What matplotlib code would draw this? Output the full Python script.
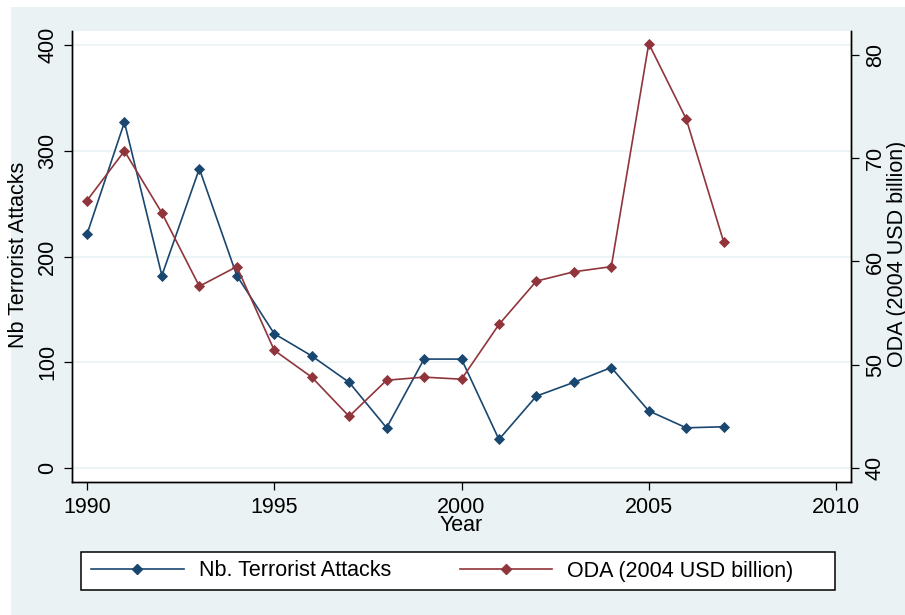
import matplotlib
matplotlib.use("Agg")
import matplotlib.pyplot as plt
from matplotlib.patches import Rectangle
from matplotlib.lines import Line2D

years = list(range(1990, 2008))
attacks = [221, 327, 182, 283, 182, 127, 106, 81, 38, 103, 103, 27, 68, 81, 95, 54, 38, 39]
oda = [65.9, 70.7, 64.7, 57.6, 59.5, 51.4, 48.8, 45.0, 48.5, 48.8, 48.6, 53.9, 58.1, 59.0, 59.5, 81.1, 73.8, 61.9]
left_ticks = [0, 100, 200, 300, 400]
right_ticks = [40, 50, 60, 70, 80]
x_ticks = [1990, 1995, 2000, 2005, 2010]
label_attacks = "Nb. Terrorist Attacks"
label_oda = "ODA (2004 USD billion)"

BLUE = "#1A476F"
RED = "#90353B"
BG = "#EAF2F3"
FS = 15.5
plt.rcParams["font.family"] = ["Liberation Sans", "DejaVu Sans"]

W, H = 905, 615
fig = plt.figure(figsize=(W / 100, H / 100), dpi=100)
fig.patch.set_facecolor("white")
fig.patches.append(Rectangle((11 / W, 0), (W - 11) / W, 1 - 7 / H,
                             transform=fig.transFigure, facecolor=BG,
                             edgecolor="none", zorder=-10))

L, R, T, B = 72, 851, 31, 482
ax = fig.add_axes([L / W, 1 - B / H, (R - L) / W, (B - T) / H])
ax.set_facecolor("white")
ax2 = ax.twinx()

ax.plot(years, attacks, color=BLUE, lw=1.2, marker="D", ms=5.4,
        mec=BLUE, mew=0.6, zorder=3)
ax2.plot(years, oda, color=RED, lw=1.2, marker="D", ms=5.4,
         mec=RED, mew=0.6, zorder=3)

ax.set_xlim(1989.6, 2010.4)
ax.set_ylim(-13.24, 413.24)
ax2.set_ylim(38.644, 82.32)
ax.set_xticks(x_ticks)
ax.set_yticks(left_ticks)
ax2.set_yticks(right_ticks)

ax.yaxis.grid(True, color=BG, lw=1.2)
ax.set_axisbelow(True)

for a in (ax, ax2):
    a.spines["top"].set_visible(False)
    for s in ("left", "right", "bottom"):
        a.spines[s].set_linewidth(1.0)
        a.spines[s].set_color("black")
    a.tick_params(length=6, width=0.9, color="black", labelsize=FS,
                  labelcolor="black")

ax.tick_params(axis="x", pad=4.5)
ax.tick_params(axis="y", labelrotation=90, pad=4)
ax2.tick_params(axis="y", labelrotation=90, pad=4)
for lab in ax.get_yticklabels() + ax2.get_yticklabels():
    lab.set_va("center")

fig.text(19 / W, 1 - 255 / H, "Nb Terrorist Attacks", rotation=90,
         ha="center", va="center", fontsize=FS)
fig.text(897 / W, 1 - 254 / H, label_oda, rotation=90,
         ha="center", va="center", fontsize=FS)
fig.text(461 / W, 1 - 531 / H, "Year", ha="center", va="baseline",
         fontsize=FS)

# legend frame
fig.patches.append(Rectangle((81 / W, 1 - 590 / H), (835 - 81) / W, 38 / H,
                             transform=fig.transFigure, facecolor="white",
                             edgecolor="black", lw=1.1, zorder=1))

handles = [Line2D([], [], color=BLUE, lw=1.2, marker="D", ms=5.4, mec=BLUE),
           Line2D([], [], color=RED, lw=1.2, marker="D", ms=5.4, mec=RED)]
leg = fig.legend(handles, [label_attacks, label_oda], ncol=2,
                 loc="center left", bbox_to_anchor=(91 / W, 1 - 571 / H),
                 fontsize=FS, frameon=False,
                 handlelength=4.3, handletextpad=0.7, columnspacing=3.2,
                 borderpad=0, borderaxespad=0, numpoints=1)
leg.set_zorder(5)

fig.savefig("out.png", dpi=100, facecolor=fig.get_facecolor())
